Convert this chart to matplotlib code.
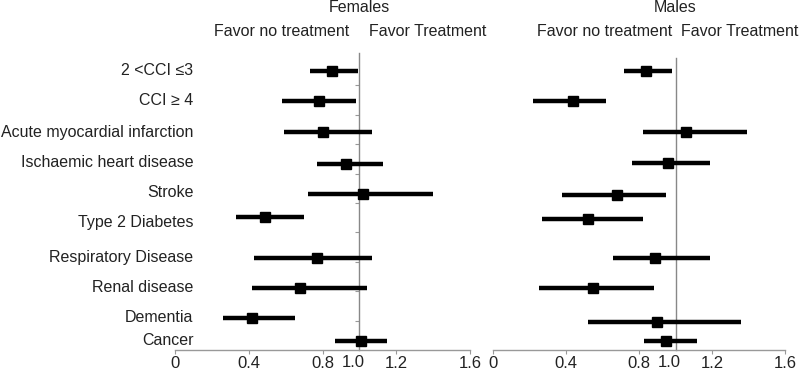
import matplotlib
matplotlib.use("Agg")
import matplotlib.pyplot as plt
from matplotlib.transforms import offset_copy

plt.rcParams['font.family'] = ['Liberation Sans', 'DejaVu Sans']

labels = ["2 <CCI \u22643", "CCI \u2265 4", "Acute myocardial infarction", "Ischaemic heart disease",
          "Stroke", "Type 2 Diabetes", "Respiratory Disease", "Renal disease", "Dementia", "Cancer"]
label_y = [9.49, 8.47, 7.41, 6.39, 5.34, 4.32, 3.16, 2.11, 1.12, 0.34]

# females
fem_y = [9.49, 8.47, 7.41, 6.33, 5.31, 4.52, 3.13, 2.11, 1.09, 0.31]
fem_est = [0.85, 0.78, 0.80, 0.93, 1.02, 0.49, 0.77, 0.68, 0.42, 1.01]
fem_lo = [0.73, 0.58, 0.59, 0.77, 0.72, 0.33, 0.43, 0.42, 0.26, 0.87]
fem_hi = [0.99, 0.98, 1.07, 1.13, 1.40, 0.70, 1.07, 1.04, 0.65, 1.15]

# males
mal_y = [9.49, 8.47, 7.41, 6.36, 5.27, 4.46, 3.13, 2.11, 0.95, 0.31]
mal_est = [0.84, 0.44, 1.06, 0.96, 0.68, 0.52, 0.89, 0.55, 0.90, 0.95]
mal_lo = [0.72, 0.22, 0.82, 0.76, 0.38, 0.27, 0.66, 0.25, 0.52, 0.83]
mal_hi = [0.98, 0.62, 1.39, 1.19, 0.95, 0.82, 1.19, 0.88, 1.36, 1.12]

xticks = [0, 0.4, 0.8, 1.2, 1.6]
xticklabels = ["0", "0.4", "0.8", "1.2", "1.6"]

txt = '#222222'
fs = 11.5

fig = plt.figure(figsize=(8, 3.71), dpi=100)
ax1 = fig.add_axes([175 / 800, 21 / 371, 295 / 800, 297 / 371])
ax2 = fig.add_axes([493 / 800, 21 / 371, 292 / 800, 297 / 371])


def draw_panel(ax, ys, est, lo, hi, title, top, with_ticks, no_x, yes_x):
    for y, e, l, h in zip(ys, est, lo, hi):
        ax.plot([l, h], [y, y], color='black', lw=3.2, solid_capstyle='butt', zorder=3)
        ax.plot(e, y, marker='s', color='black', markersize=6.5, zorder=4)
    ax.set_xlim(0, 1.6)
    ax.set_ylim(0, 10.1)
    for s in ['top', 'right']:
        ax.spines[s].set_visible(False)
    ax.spines['left'].set_position(('data', 1.0))
    ax.spines['left'].set_color('#888888')
    ax.spines['left'].set_linewidth(1)
    ax.spines['left'].set_bounds(0, top)
    ax.spines['bottom'].set_color('#999999')
    ax.spines['bottom'].set_linewidth(1)
    ax.set_xticks(xticks)
    ax.set_xticklabels(xticklabels, fontsize=12, color=txt)
    ax.tick_params(axis='x', length=3, color='#999999', pad=1)
    # "1.0" label sits a little left of the reference line
    tr = offset_copy(ax.get_xaxis_transform(), fig=fig, x=-6, y=-5, units='dots')
    ax.text(1.0, 0, "1.0", transform=tr, ha='center', va='top', fontsize=12, color=txt)
    if with_ticks:
        ax.set_yticks(range(1, 10))
        ax.tick_params(axis='y', length=3, color='#999999', direction='out')
    else:
        ax.set_yticks([])
    ax.set_yticklabels([])
    ax.text(1.0, 1.0 + 45 / 297, title, transform=ax.get_xaxis_transform(),
            ha='center', va='center', fontsize=11.5, color=txt)
    ax.text(no_x, 1.0 + 22 / 297, "Favor no treatment", transform=ax.get_xaxis_transform(),
            ha='center', va='center', fontsize=11.5, color=txt)
    ax.text(yes_x, 1.0 + 22 / 297, "Favor Treatment", transform=ax.get_xaxis_transform(),
            ha='center', va='center', fontsize=11.5, color=txt)


draw_panel(ax1, fem_y, fem_est, fem_lo, fem_hi, "Females", 10.1, True, 0.58, 1.37)
draw_panel(ax2, mal_y, mal_est, mal_lo, mal_hi, "Males", 9.93, False, 0.61, 1.35)

for lab, y in zip(labels, label_y):
    ax1.text(0.1, y, lab, ha='right', va='center', fontsize=fs, color=txt)

fig.savefig("out.png", dpi=100)
